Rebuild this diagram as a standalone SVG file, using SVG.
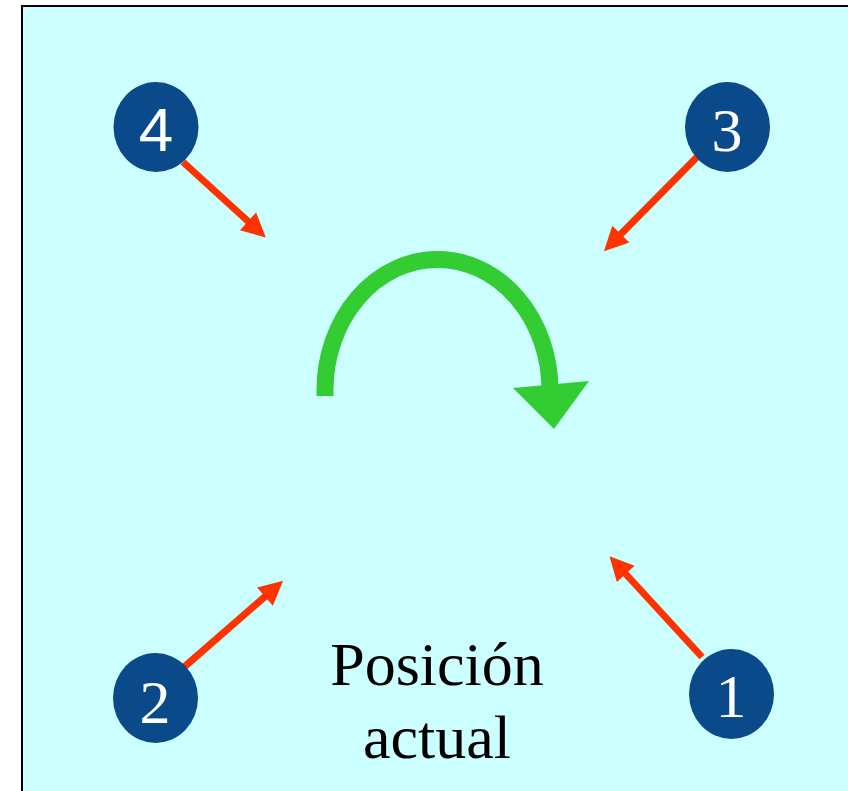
<svg xmlns="http://www.w3.org/2000/svg" width="848" height="791" viewBox="0 0 848 791">
  <style>
    .node ellipse { fill: #0B4A8A; }
    .num { fill: #FFFFFF; font-size: 62px; text-anchor: middle; }
    .conn { stroke: #FF3300; stroke-width: 7; fill: none; marker-end: url(#head); }
    .label { fill: #000000; font-size: 62px; text-anchor: middle; }
  </style>
  <defs>
    <marker id="head" markerUnits="userSpaceOnUse" markerWidth="26" markerHeight="26" refX="4" refY="12" orient="auto" overflow="visible">
      <path d="M0,0 L24,12 L0,24 Z" fill="#FF3300"/>
    </marker>
  </defs>
  <rect x="0" y="0" width="848" height="791" fill="#FFFFFF"/>
  <rect x="22" y="6" width="840" height="800" fill="#CCFFFF" stroke="#000000" stroke-width="2"/>

  <g id="connectors">
    <line class="conn" x1="183" y1="162" x2="251" y2="224"/>
    <line class="conn" x1="698" y1="156" x2="618" y2="237"/>
    <line class="conn" x1="183" y1="668" x2="268" y2="594"/>
    <line class="conn" x1="702" y1="657" x2="623" y2="571"/>
  </g>

  <g id="rotation">
    <path d="M325,396 L325,390 A112,130 0 0 1 550,390" fill="none" stroke="#33CC33" stroke-width="17"/>
    <polygon points="513,388 589,381 554,429" fill="#33CC33"/>
  </g>

  <g id="node4" class="node">
    <ellipse cx="156" cy="127" rx="42.5" ry="45"/>
    <text class="num" x="156" y="151" font-family="Liberation Sans, Arial, sans-serif" font-weight="300">4</text>
  </g>
  <g id="node3" class="node">
    <ellipse cx="727.5" cy="127" rx="42.5" ry="45"/>
    <text class="num" x="727" y="151" font-family="Liberation Serif, Times New Roman, serif">3</text>
  </g>
  <g id="node2" class="node">
    <ellipse cx="155.5" cy="698" rx="42.5" ry="45"/>
    <text class="num" x="155" y="723" font-family="Liberation Serif, Times New Roman, serif">2</text>
  </g>
  <g id="node1" class="node">
    <ellipse cx="731.5" cy="694" rx="42.5" ry="45"/>
    <text class="num" x="731" y="717" font-family="Liberation Serif, Times New Roman, serif">1</text>
  </g>

  <g id="current">
    <text class="label" x="437" y="685" font-family="Liberation Serif, Times New Roman, serif">Posición</text>
    <text class="label" x="437" y="758" font-family="Liberation Serif, Times New Roman, serif">actual</text>
  </g>
</svg>
